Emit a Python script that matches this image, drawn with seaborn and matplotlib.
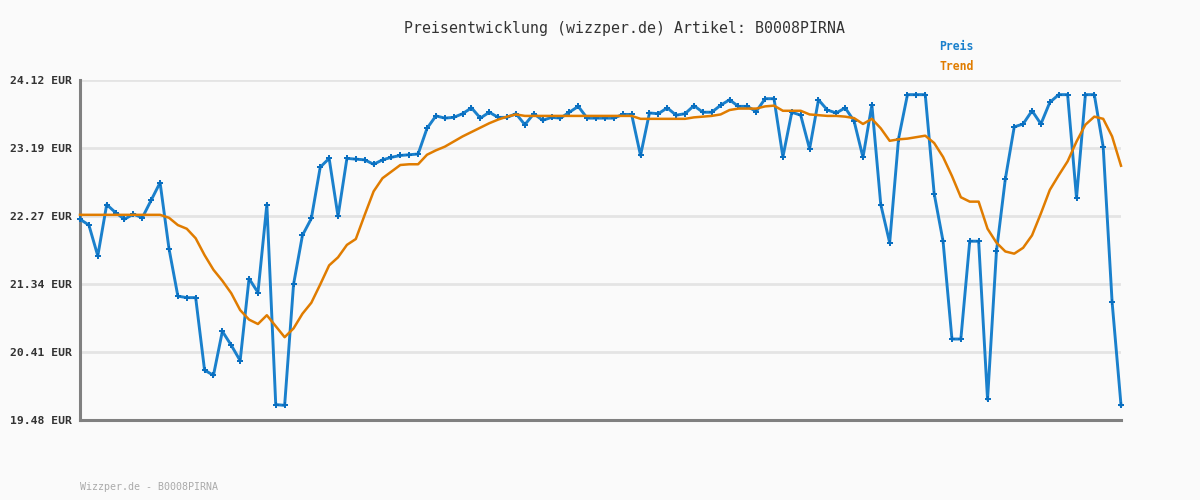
import matplotlib
matplotlib.use('Agg')
import matplotlib.pyplot as plt
import seaborn as sns
import pandas as pd

TITLE = 'Preisentwicklung (wizzper.de) Artikel: B0008PIRNA'
FOOTER = 'Wizzper.de - B0008PIRNA'

preis = [22.22, 22.14, 21.72, 22.42, 22.31, 22.22, 22.29, 22.24, 22.48, 22.72,
         21.82, 21.17, 21.15, 21.15, 20.16, 20.09, 20.69, 20.50, 20.29, 21.41,
         21.22, 22.42, 19.69, 19.68, 21.33, 22.00, 22.23, 22.93, 23.05, 22.26,
         23.05, 23.04, 23.03, 22.97, 23.03, 23.065, 23.09, 23.10, 23.11, 23.46,
         23.63, 23.60, 23.61, 23.66, 23.74, 23.60, 23.68, 23.61, 23.61, 23.66,
         23.51, 23.66, 23.57, 23.61, 23.60, 23.68, 23.76, 23.60, 23.60, 23.60,
         23.60, 23.65, 23.65, 23.09, 23.67, 23.66, 23.74, 23.64, 23.66, 23.77,
         23.68, 23.68, 23.775, 23.85, 23.76, 23.76, 23.69, 23.865, 23.865, 23.07,
         23.68, 23.64, 23.18, 23.85, 23.71, 23.67, 23.74, 23.56, 23.065, 23.78,
         22.42, 21.90, 23.32, 23.92, 23.92, 23.92, 22.57, 21.92, 20.585, 20.585,
         21.92, 21.92, 19.76, 21.78, 22.77, 23.48, 23.52, 23.70, 23.52, 23.815,
         23.92, 23.92, 22.51, 23.92, 23.92, 23.205, 21.09, 19.685]

trend = [22.28, 22.28, 22.28, 22.28, 22.28, 22.28, 22.28, 22.28, 22.28, 22.28,
         22.24, 22.14, 22.09, 21.96, 21.73, 21.53, 21.38, 21.21, 20.98, 20.85,
         20.79, 20.91, 20.76, 20.61, 20.73, 20.93, 21.08, 21.33, 21.59, 21.70,
         21.87, 21.95, 22.28, 22.60, 22.78, 22.87, 22.96, 22.97, 22.97, 23.10,
         23.16, 23.21, 23.28, 23.35, 23.41, 23.47, 23.53, 23.58, 23.62, 23.65,
         23.63, 23.63, 23.63, 23.63, 23.63, 23.63, 23.63, 23.63, 23.63, 23.63,
         23.63, 23.63, 23.63, 23.59, 23.59, 23.59, 23.59, 23.59, 23.59, 23.61,
         23.62, 23.63, 23.65, 23.71, 23.73, 23.73, 23.73, 23.76, 23.77, 23.70,
         23.70, 23.70, 23.65, 23.64, 23.63, 23.63, 23.62, 23.60, 23.52, 23.59,
         23.46, 23.29, 23.31, 23.32, 23.34, 23.36, 23.26, 23.07, 22.81, 22.52,
         22.46, 22.46, 22.09, 21.90, 21.78, 21.75, 21.83, 22.00, 22.30, 22.62,
         22.82, 23.01, 23.28, 23.51, 23.62, 23.59, 23.35, 22.95]

yticks = [19.48, 20.41, 21.34, 22.27, 23.19, 24.12]
ytick_labels = ['19.48 EUR', '20.41 EUR', '21.34 EUR', '22.27 EUR', '23.19 EUR', '24.12 EUR']

BLUE = '#1a80cc'
ORANGE = '#e07c00'
BG = '#fafafa'

df = pd.DataFrame({'Tag': range(len(preis)), 'Preis': preis, 'Trend': trend})

plt.rcParams['font.family'] = ['DejaVu Sans Mono']

fig = plt.figure(figsize=(12, 5), dpi=100, facecolor=BG)
ax = fig.add_axes([80 / 1200, 80 / 500, 1041 / 1200, 340 / 500])
ax.set_facecolor(BG)

sns.lineplot(data=df, x='Tag', y='Preis', ax=ax, color=BLUE, linewidth=2.1,
             marker='P', markersize=4.2, markeredgewidth=0, markerfacecolor='#0a6fc0',
             clip_on=False, zorder=3)
sns.lineplot(data=df, x='Tag', y='Trend', ax=ax, color=ORANGE, linewidth=1.8,
             clip_on=False, zorder=4)

ax.set_xlim(0, len(preis) - 1)
ax.set_ylim(19.48, 24.12)
ax.set_xticks([])
ax.set_yticks(yticks)
ax.set_yticklabels(ytick_labels, fontsize=8.2, fontweight='bold', color='#333333')
ax.tick_params(axis='y', length=0, pad=6)
ax.set_xlabel('')
ax.set_ylabel('')

ax.grid(axis='y', color='#e4e4e4', linewidth=2)
ax.set_axisbelow(True)
sns.despine(ax=ax)
for side in ['left', 'bottom']:
    ax.spines[side].set_color('#808080')
    ax.spines[side].set_linewidth(2.2)

fig.text(624 / 1200, 1 - 28 / 500, TITLE, ha='center', va='center',
         fontsize=10.7, color='#333333')
fig.text(939 / 1200, 1 - 47 / 500, 'Preis', ha='left', va='center',
         fontsize=8.3, fontweight='bold', color=BLUE)
fig.text(939 / 1200, 1 - 67 / 500, 'Trend', ha='left', va='center',
         fontsize=8.3, fontweight='bold', color=ORANGE)
fig.text(80 / 1200, 1 - 487 / 500, FOOTER, ha='left', va='center',
         fontsize=7.2, color='#aaaaaa')

fig.savefig('out.png', dpi=100, facecolor=BG)
